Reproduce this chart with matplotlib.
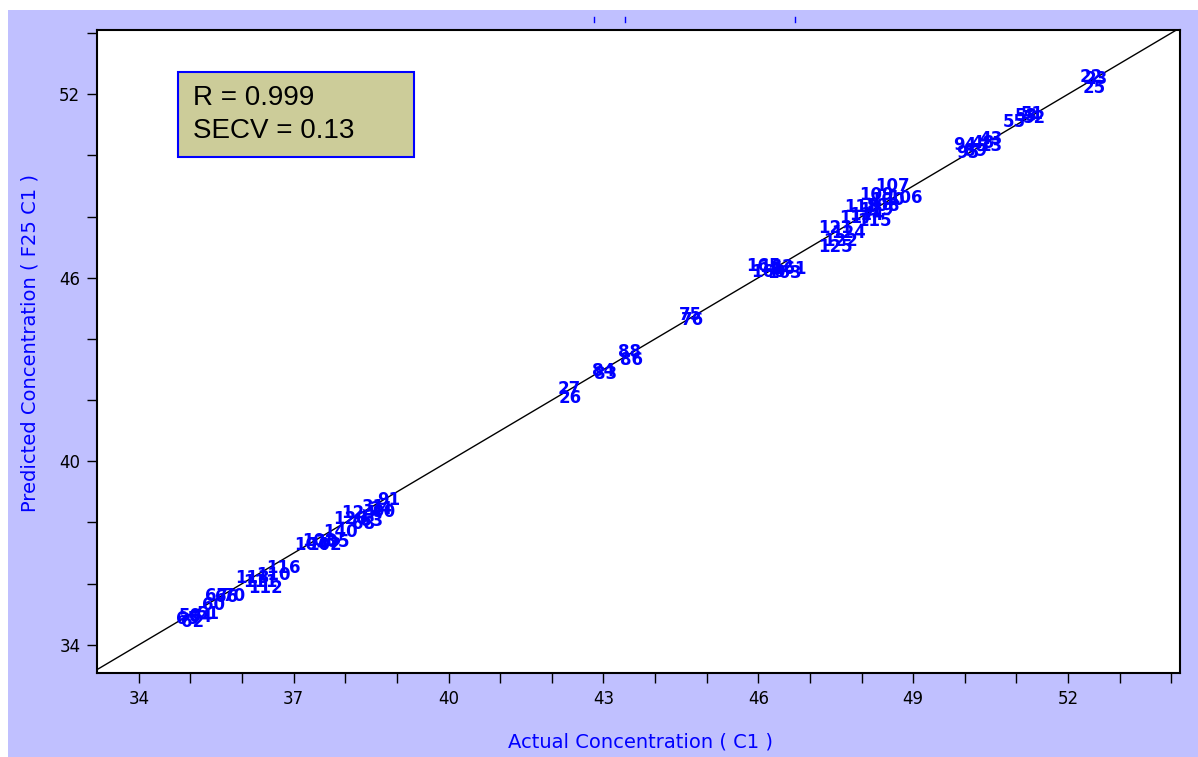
import matplotlib
matplotlib.use("Agg")
import matplotlib.pyplot as plt
from matplotlib.patches import Rectangle
from matplotlib.lines import Line2D
from matplotlib.ticker import FixedLocator

# ---- data (labels are sample numbers) ----
actual = [34.95, 35.0, 35.05, 35.2, 35.35, 35.45, 35.5, 35.7, 35.85,
          36.2, 36.35, 36.45, 36.6, 36.8,
          37.35, 37.5, 37.6, 37.75, 37.9, 38.1, 38.25, 38.35, 38.5,
          38.55, 38.7, 38.85, 38.75,
          42.33, 42.35, 43.0, 43.05, 43.5, 43.55, 44.68, 44.72,
          46.1, 46.2, 46.35, 46.5, 46.6,
          47.5, 47.5, 47.6, 47.75,
          47.9, 48.0, 48.1, 48.25, 48.3, 48.4,
          48.6, 48.85, 48.5, 48.3,
          50.0, 50.05, 50.2, 50.35, 50.5, 50.5,
          50.95, 51.2, 51.35, 51.3,
          52.45, 52.55, 52.5]
predicted = [34.85, 34.95, 34.75, 34.9, 35.0, 35.3, 35.6, 35.55, 35.6,
             36.2, 36.05, 35.85, 36.3, 36.5,
             37.25, 37.4, 37.25, 37.35, 37.7, 38.1, 38.3, 37.95, 38.05,
             38.5, 38.45, 38.75, 38.35,
             42.37, 42.07, 42.95, 42.85, 43.58, 43.31, 44.78, 44.62,
             46.4, 46.2, 46.35, 46.15, 46.3,
             47.63, 47.0, 47.2, 47.45,
             47.95, 48.3, 48.05, 47.85, 48.2, 48.35,
             49.0, 48.6, 48.55, 48.7,
             50.34, 50.08, 50.15, 50.4, 50.3, 50.55,
             51.1, 51.3, 51.22, 51.35,
             52.55, 52.5, 52.2]
sample_ids = ["65", "50", "62", "64", "51", "60", "67", "66", "70",
              "113", "111", "112", "110", "116",
              "104", "103", "102", "105", "140", "120", "124", "68", "63",
              "31", "24", "91", "90",
              "27", "26", "84", "83", "88", "86", "75", "76",
              "165", "160", "162", "163", "161",
              "121", "125", "122", "124",
              "117", "118", "114", "115", "119", "108",
              "107", "106", "100", "109",
              "94", "95", "89", "48", "13", "43",
              "55", "53", "52", "51",
              "22", "23", "25"]

x_major = [34, 37, 40, 43, 46, 49, 52]
x_minor = list(range(34, 55))
y_major = [34, 40, 46, 52]
y_minor = list(range(34, 55, 2))
stats_text = ["R = 0.999", "SECV = 0.13"]
x_label = "Actual Concentration ( C1 )"
y_label = "Predicted Concentration ( F25 C1 )"
x_range = (33.19, 54.17)
y_range = (33.08, 54.1)

W, H = 1198, 757
fig = plt.figure(figsize=(W / 100, H / 100), dpi=100)
fig.patch.set_facecolor("white")

def px(x, y):
    return x / W, 1 - y / H

# lavender background panel
bx, by = px(8, 757)
fig.add_artist(Rectangle((bx, by), (1198 - 8) / W, (757 - 10) / H,
                         transform=fig.transFigure, facecolor="#C0C0FF",
                         edgecolor="none", zorder=0))

l, b = px(97, 673)
r, t = px(1180, 30)
ax = fig.add_axes([l, b, r - l, t - b])
ax.set_facecolor("white")
ax.set_xlim(*x_range)
ax.set_ylim(*y_range)

# identity line
ax.plot([x_range[0], x_range[1]], [x_range[0], x_range[1]], color="black",
        lw=1.0, zorder=2)

for xa, yp, s in zip(actual, predicted, sample_ids):
    ax.text(xa, yp, s, color="#0000FF", fontsize=12, ha="center",
            va="center", family="DejaVu Sans", fontweight="bold", zorder=3)

ax.xaxis.set_major_locator(FixedLocator(x_major))
ax.xaxis.set_minor_locator(FixedLocator(x_minor))
ax.yaxis.set_major_locator(FixedLocator(y_major))
ax.yaxis.set_minor_locator(FixedLocator(y_minor))
ax.tick_params(which="both", direction="out", color="black", width=1.0)
ax.tick_params(which="major", length=7, labelsize=12, pad=5)
ax.tick_params(which="minor", length=7)
for sp in ax.spines.values():
    sp.set_linewidth(1.5)
    sp.set_color("black")

fig.text(640 / W, 1 - 742 / H, x_label, color="#0000FF", fontsize=14,
         ha="center", va="center")
fig.text(30 / W, 1 - 343 / H, y_label, color="#0000FF", fontsize=14,
         ha="center", va="center", rotation=90)

# stats box (fixed size, as in the reference)
x0, y0 = px(178, 157)
fig.add_artist(Rectangle((x0, y0), (414 - 178) / W, (157 - 72) / H,
                         transform=fig.transFigure, facecolor="#CCCC99",
                         edgecolor="#0000FF", linewidth=1.5, zorder=5))
for i, s in enumerate(stats_text):
    tx, ty = px(193, 98 + 33 * i)
    fig.text(tx, ty, s, fontsize=20, family="Liberation Sans",
             ha="left", va="center", zorder=6)

# small blue marks above the frame
for xp in (594, 625, 795):
    a0, b0 = px(xp, 17)
    a1, b1 = px(xp, 22)
    fig.add_artist(Line2D([a0, a1], [b0, b1], transform=fig.transFigure,
                          color="#0000FF", lw=1))

fig.savefig("out.png", dpi=100)
